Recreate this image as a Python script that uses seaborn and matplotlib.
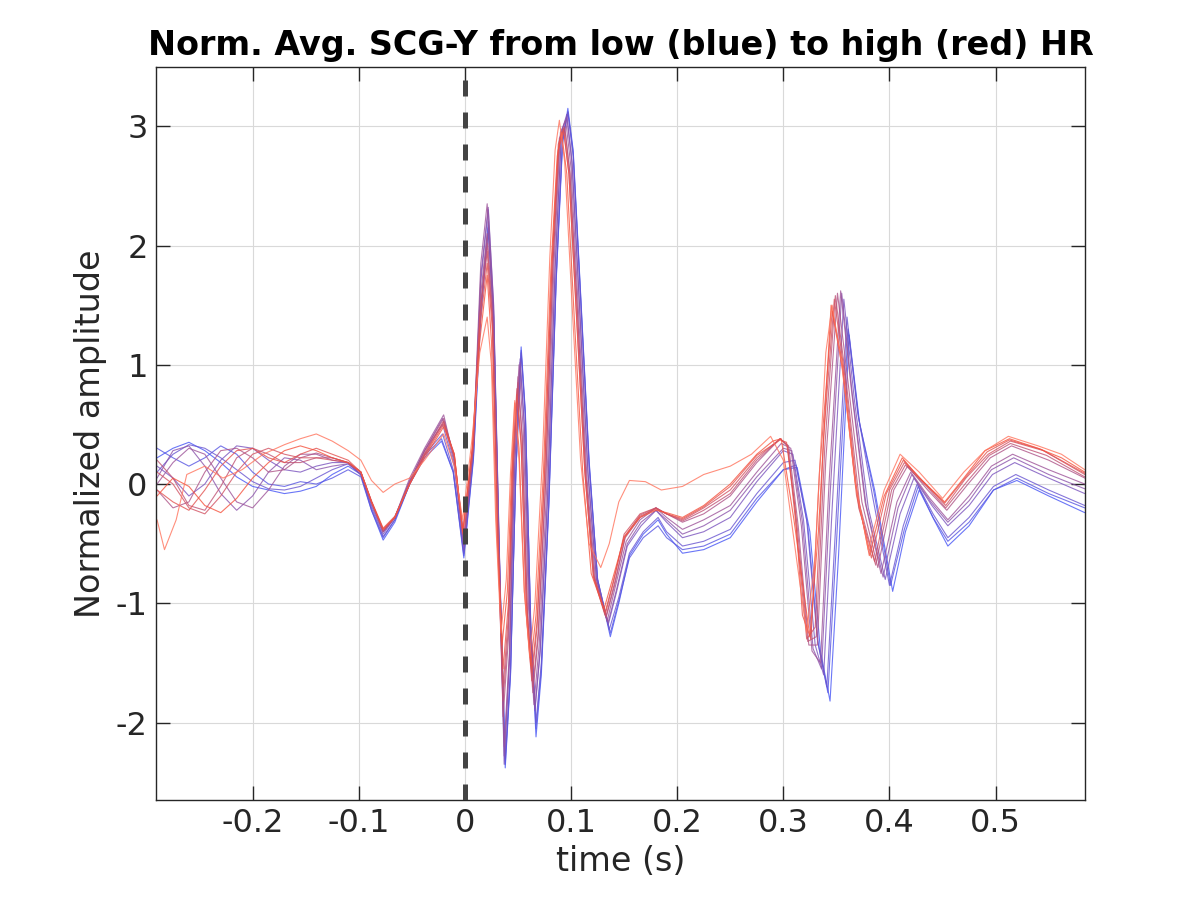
import numpy as np
import pandas as pd
import matplotlib
matplotlib.use("Agg")
import matplotlib.pyplot as plt
import seaborn as sns

# ---- data (time in s, normalized amplitude) ----
t0 = [-0.290,-0.275,-0.260,-0.245,-0.230,-0.215,-0.200,-0.185,-0.170,-0.155,-0.140,-0.125,-0.110,-0.098,-0.088,-0.077,-0.066,-0.052,-0.038,-0.022,-0.011,-0.001,0.008,0.015,0.022,0.027,0.032,0.038,0.043,0.048,0.053,0.057,0.062,0.067,0.072,0.079,0.086,0.092,0.097,0.102,0.109,0.117,0.125,0.137,0.145,0.155,0.168,0.182,0.190,0.205,0.225,0.250,0.275,0.300,0.313,0.325,0.335,0.344,0.352,0.362,0.372,0.386,0.403,0.415,0.428,0.442,0.455,0.475,0.498,0.520,0.550,0.584]
y0 = [0.22,0.30,0.35,0.28,0.18,0.06,-0.02,-0.05,-0.08,-0.06,-0.02,0.08,0.15,0.08,-0.22,-0.47,-0.32,0.00,0.22,0.36,0.10,-0.62,0.20,1.40,2.12,1.40,-0.50,-2.38,-1.60,0.10,1.15,0.60,-1.20,-2.12,-1.60,-0.20,1.70,2.85,3.15,2.80,1.60,0.20,-0.80,-1.28,-1.00,-0.60,-0.42,-0.30,-0.42,-0.58,-0.55,-0.45,-0.15,0.12,0.14,-0.40,-1.40,-1.82,-0.60,1.25,0.50,-0.05,-0.90,-0.40,-0.05,-0.30,-0.52,-0.35,-0.05,0.03,-0.10,-0.24]

t0b = [-0.290,-0.275,-0.260,-0.245,-0.230,-0.215,-0.200,-0.185,-0.170,-0.155,-0.140,-0.125,-0.110,-0.098,-0.088,-0.077,-0.066,-0.052,-0.038,-0.022,-0.011,-0.001,0.008,0.015,0.022,0.027,0.032,0.038,0.043,0.048,0.053,0.057,0.062,0.067,0.072,0.079,0.086,0.092,0.097,0.102,0.109,0.117,0.125,0.137,0.145,0.155,0.168,0.182,0.190,0.205,0.225,0.250,0.275,0.300,0.312,0.323,0.333,0.342,0.350,0.361,0.371,0.385,0.401,0.414,0.427,0.441,0.455,0.475,0.498,0.520,0.550,0.584]
y0b = [0.30,0.22,0.15,0.22,0.32,0.25,0.10,0.00,-0.02,0.02,0.00,0.05,0.12,0.06,-0.22,-0.45,-0.30,0.00,0.24,0.38,0.10,-0.60,0.22,1.45,2.15,1.42,-0.48,-2.35,-1.58,0.10,1.12,0.58,-1.18,-2.05,-1.55,-0.18,1.72,2.88,3.12,2.78,1.58,0.18,-0.80,-1.25,-0.98,-0.62,-0.45,-0.35,-0.45,-0.55,-0.52,-0.42,-0.12,0.12,0.16,-0.35,-1.35,-1.75,-0.50,1.30,0.55,-0.05,-0.85,-0.38,-0.02,-0.28,-0.48,-0.32,-0.05,0.05,-0.08,-0.20]

t1 = [-0.290,-0.275,-0.260,-0.245,-0.230,-0.215,-0.200,-0.185,-0.170,-0.155,-0.140,-0.125,-0.110,-0.098,-0.088,-0.077,-0.066,-0.052,-0.038,-0.021,-0.011,-0.001,0.008,0.015,0.022,0.027,0.032,0.038,0.043,0.048,0.053,0.057,0.062,0.067,0.072,0.079,0.086,0.092,0.097,0.102,0.109,0.117,0.125,0.136,0.145,0.155,0.168,0.182,0.190,0.205,0.225,0.250,0.275,0.300,0.311,0.322,0.332,0.341,0.349,0.360,0.370,0.384,0.400,0.413,0.426,0.441,0.455,0.475,0.498,0.519,0.550,0.584]
y1 = [0.10,0.25,0.33,0.30,0.22,0.12,0.02,-0.04,-0.05,-0.02,0.05,0.12,0.17,0.08,-0.20,-0.44,-0.30,0.00,0.25,0.42,0.12,-0.58,0.25,1.50,2.20,1.45,-0.45,-2.30,-1.55,0.10,1.10,0.55,-1.15,-2.00,-1.50,-0.15,1.75,2.90,3.12,2.75,1.55,0.15,-0.80,-1.22,-0.95,-0.58,-0.40,-0.28,-0.40,-0.52,-0.48,-0.38,-0.08,0.18,0.20,-0.30,-1.30,-1.70,-0.40,1.40,0.60,-0.10,-0.85,-0.35,0.00,-0.25,-0.45,-0.28,-0.02,0.08,-0.05,-0.18]

t2 = [-0.290,-0.275,-0.260,-0.245,-0.230,-0.215,-0.200,-0.185,-0.170,-0.155,-0.140,-0.125,-0.110,-0.098,-0.088,-0.077,-0.066,-0.052,-0.038,-0.021,-0.010,-0.001,0.008,0.015,0.022,0.027,0.032,0.037,0.042,0.047,0.052,0.056,0.061,0.066,0.071,0.078,0.085,0.091,0.096,0.101,0.108,0.116,0.124,0.135,0.143,0.153,0.166,0.180,0.190,0.205,0.225,0.250,0.275,0.300,0.309,0.319,0.330,0.338,0.346,0.357,0.367,0.380,0.396,0.410,0.423,0.440,0.455,0.475,0.497,0.518,0.550,0.584]
y2 = [0.15,0.05,-0.10,0.00,0.20,0.32,0.30,0.20,0.12,0.10,0.15,0.18,0.18,0.08,-0.18,-0.42,-0.28,0.02,0.28,0.50,0.15,-0.55,0.30,1.70,2.30,1.50,-0.40,-2.35,-1.50,0.15,1.05,0.50,-1.10,-1.90,-1.40,-0.10,1.80,2.95,3.10,2.70,1.50,0.10,-0.80,-1.18,-0.90,-0.52,-0.35,-0.22,-0.32,-0.45,-0.40,-0.28,0.02,0.28,0.25,-0.30,-1.35,-1.60,-0.20,1.55,0.70,-0.20,-0.80,-0.25,0.05,-0.18,-0.35,-0.18,0.08,0.18,0.05,-0.08]

t2b = [-0.290,-0.275,-0.260,-0.245,-0.230,-0.215,-0.200,-0.185,-0.170,-0.155,-0.140,-0.125,-0.110,-0.098,-0.088,-0.077,-0.066,-0.052,-0.038,-0.021,-0.010,-0.001,0.008,0.015,0.022,0.027,0.032,0.037,0.042,0.047,0.052,0.056,0.061,0.066,0.071,0.078,0.085,0.091,0.096,0.101,0.108,0.116,0.124,0.135,0.143,0.153,0.166,0.180,0.190,0.205,0.225,0.250,0.275,0.300,0.308,0.318,0.328,0.336,0.344,0.355,0.365,0.378,0.394,0.408,0.421,0.439,0.455,0.475,0.496,0.517,0.550,0.584]
y2b = [0.05,0.28,0.32,0.15,-0.08,-0.22,-0.10,0.10,0.22,0.20,0.12,0.15,0.17,0.08,-0.16,-0.40,-0.28,0.03,0.28,0.55,0.18,-0.52,0.32,1.75,2.32,1.52,-0.38,-2.28,-1.45,0.18,1.02,0.48,-1.08,-1.88,-1.38,-0.08,1.82,2.95,3.08,2.68,1.48,0.08,-0.80,-1.16,-0.88,-0.50,-0.32,-0.22,-0.30,-0.42,-0.35,-0.22,0.06,0.30,0.28,-0.32,-1.38,-1.55,-0.10,1.60,0.75,-0.18,-0.78,-0.20,0.08,-0.15,-0.32,-0.14,0.12,0.22,0.08,-0.04]

t3 = [-0.290,-0.275,-0.260,-0.245,-0.230,-0.215,-0.200,-0.185,-0.170,-0.155,-0.140,-0.125,-0.110,-0.098,-0.088,-0.077,-0.066,-0.052,-0.038,-0.020,-0.010,-0.001,0.008,0.015,0.021,0.026,0.031,0.037,0.042,0.046,0.051,0.055,0.060,0.065,0.070,0.077,0.084,0.090,0.095,0.100,0.107,0.115,0.123,0.134,0.142,0.152,0.165,0.180,0.190,0.205,0.225,0.250,0.275,0.298,0.307,0.317,0.327,0.335,0.343,0.354,0.364,0.377,0.392,0.407,0.420,0.438,0.455,0.475,0.496,0.516,0.550,0.584]
y3 = [0.00,0.18,0.30,0.25,0.05,-0.15,-0.20,-0.05,0.15,0.25,0.25,0.20,0.18,0.10,-0.15,-0.40,-0.28,0.05,0.30,0.58,0.20,-0.50,0.35,1.85,2.35,1.55,-0.35,-2.20,-1.40,0.20,1.00,0.45,-1.05,-1.85,-1.35,-0.05,1.85,2.95,3.05,2.65,1.45,0.05,-0.80,-1.15,-0.85,-0.48,-0.30,-0.20,-0.28,-0.38,-0.30,-0.18,0.10,0.34,0.30,-0.35,-1.40,-1.50,0.00,1.62,0.80,-0.15,-0.75,-0.15,0.10,-0.12,-0.30,-0.10,0.15,0.25,0.12,0.00]

t4 = [-0.290,-0.275,-0.260,-0.245,-0.230,-0.215,-0.200,-0.185,-0.170,-0.155,-0.140,-0.125,-0.110,-0.098,-0.088,-0.077,-0.066,-0.052,-0.038,-0.020,-0.010,-0.001,0.008,0.015,0.021,0.026,0.031,0.036,0.041,0.046,0.050,0.054,0.059,0.064,0.069,0.076,0.083,0.089,0.094,0.099,0.106,0.114,0.122,0.133,0.141,0.151,0.165,0.180,0.190,0.205,0.225,0.250,0.275,0.297,0.305,0.314,0.324,0.332,0.340,0.351,0.361,0.374,0.389,0.404,0.417,0.436,0.454,0.474,0.495,0.515,0.550,0.584]
y4 = [-0.05,-0.20,-0.15,0.10,0.28,0.30,0.22,0.10,0.12,0.22,0.26,0.22,0.18,0.10,-0.15,-0.40,-0.28,0.02,0.28,0.55,0.22,-0.45,0.32,1.60,2.10,1.45,-0.40,-1.95,-1.30,0.20,0.90,0.40,-1.10,-1.75,-1.30,0.00,1.85,2.90,3.00,2.60,1.45,0.05,-0.80,-1.12,-0.85,-0.45,-0.28,-0.20,-0.25,-0.32,-0.25,-0.10,0.18,0.38,0.32,-0.35,-1.35,-1.35,0.20,1.60,0.85,-0.15,-0.70,-0.05,0.15,-0.05,-0.22,0.00,0.22,0.32,0.20,0.05]

t4b = [-0.290,-0.275,-0.260,-0.245,-0.230,-0.215,-0.200,-0.185,-0.170,-0.155,-0.140,-0.125,-0.110,-0.098,-0.088,-0.077,-0.066,-0.052,-0.038,-0.020,-0.010,-0.001,0.008,0.015,0.021,0.026,0.031,0.036,0.041,0.046,0.050,0.054,0.059,0.064,0.069,0.076,0.083,0.089,0.094,0.099,0.106,0.114,0.122,0.133,0.141,0.151,0.165,0.180,0.190,0.205,0.225,0.250,0.275,0.297,0.304,0.313,0.323,0.331,0.339,0.349,0.359,0.372,0.387,0.402,0.415,0.435,0.453,0.473,0.494,0.514,0.548,0.584]
y4b = [0.20,0.05,-0.18,-0.22,-0.02,0.22,0.30,0.25,0.18,0.18,0.22,0.22,0.18,0.10,-0.15,-0.39,-0.28,0.01,0.26,0.53,0.23,-0.44,0.31,1.50,2.02,1.40,-0.40,-1.82,-1.20,0.20,0.85,0.38,-1.10,-1.70,-1.25,0.02,1.85,2.88,2.99,2.60,1.45,0.08,-0.79,-1.11,-0.83,-0.44,-0.26,-0.20,-0.25,-0.31,-0.22,-0.08,0.20,0.38,0.32,-0.35,-1.32,-1.28,0.30,1.58,0.88,-0.18,-0.68,-0.05,0.16,-0.02,-0.20,0.02,0.24,0.34,0.24,0.06]

t5 = [-0.290,-0.275,-0.260,-0.245,-0.230,-0.215,-0.200,-0.185,-0.170,-0.155,-0.140,-0.125,-0.110,-0.098,-0.088,-0.077,-0.066,-0.052,-0.038,-0.020,-0.010,-0.002,0.007,0.014,0.021,0.026,0.031,0.036,0.041,0.045,0.049,0.053,0.058,0.063,0.068,0.075,0.082,0.088,0.093,0.098,0.105,0.113,0.121,0.132,0.140,0.150,0.165,0.180,0.190,0.205,0.225,0.250,0.275,0.297,0.304,0.312,0.322,0.330,0.338,0.348,0.358,0.371,0.386,0.400,0.414,0.434,0.453,0.472,0.493,0.514,0.545,0.584]
y5 = [0.10,0.00,-0.20,-0.25,-0.10,0.10,0.25,0.30,0.25,0.22,0.22,0.20,0.18,0.10,-0.15,-0.38,-0.28,0.00,0.25,0.52,0.25,-0.42,0.30,1.40,1.95,1.35,-0.40,-1.70,-1.10,0.20,0.80,0.35,-1.10,-1.65,-1.20,0.05,1.85,2.85,2.98,2.60,1.45,0.10,-0.78,-1.10,-0.82,-0.42,-0.25,-0.20,-0.25,-0.30,-0.20,-0.05,0.22,0.38,0.32,-0.35,-1.30,-1.20,0.40,1.55,0.90,-0.20,-0.65,-0.05,0.18,0.00,-0.18,0.05,0.25,0.36,0.28,0.08]

t5b = [-0.290,-0.275,-0.260,-0.245,-0.230,-0.215,-0.200,-0.185,-0.170,-0.155,-0.140,-0.125,-0.110,-0.098,-0.088,-0.077,-0.066,-0.052,-0.038,-0.020,-0.010,-0.002,0.007,0.014,0.021,0.026,0.031,0.036,0.041,0.045,0.049,0.053,0.058,0.063,0.068,0.075,0.082,0.088,0.093,0.098,0.105,0.113,0.121,0.132,0.140,0.150,0.165,0.180,0.190,0.205,0.225,0.250,0.275,0.297,0.303,0.311,0.318,0.326,0.334,0.346,0.356,0.369,0.383,0.397,0.413,0.432,0.452,0.471,0.492,0.513,0.543,0.584]
y5b = [-0.05,-0.15,-0.22,-0.05,0.15,0.28,0.30,0.22,0.18,0.25,0.30,0.25,0.20,0.10,-0.14,-0.37,-0.27,0.00,0.24,0.50,0.25,-0.41,0.30,1.30,1.85,1.28,-0.40,-1.55,-1.00,0.15,0.75,0.32,-1.00,-1.58,-1.15,0.08,1.82,2.80,2.96,2.60,1.42,0.10,-0.76,-1.08,-0.81,-0.44,-0.27,-0.21,-0.25,-0.29,-0.19,-0.02,0.24,0.37,0.35,-0.20,-1.10,-1.30,0.10,1.45,0.95,-0.10,-0.62,-0.08,0.20,0.02,-0.16,0.05,0.27,0.37,0.29,0.09]

t6 = [-0.290,-0.275,-0.260,-0.245,-0.230,-0.215,-0.200,-0.185,-0.170,-0.155,-0.140,-0.125,-0.110,-0.098,-0.088,-0.077,-0.066,-0.052,-0.038,-0.020,-0.010,-0.002,0.007,0.014,0.021,0.025,0.030,0.035,0.040,0.044,0.047,0.051,0.056,0.062,0.067,0.074,0.081,0.087,0.091,0.096,0.103,0.111,0.119,0.131,0.139,0.150,0.165,0.180,0.190,0.205,0.225,0.250,0.275,0.290,0.298,0.310,0.325,0.333,0.345,0.355,0.368,0.381,0.395,0.412,0.428,0.452,0.470,0.490,0.513,0.540,0.562,0.584]
y6 = [-0.10,0.05,-0.02,-0.18,-0.24,-0.12,0.05,0.18,0.28,0.32,0.28,0.22,0.18,0.10,-0.15,-0.38,-0.28,0.00,0.22,0.48,0.25,-0.40,0.30,1.20,1.75,1.20,-0.40,-1.35,-0.90,0.10,0.68,0.30,-0.90,-1.52,-1.10,0.10,1.80,2.75,2.95,2.60,1.40,0.10,-0.75,-1.05,-0.80,-0.45,-0.28,-0.22,-0.24,-0.28,-0.18,0.00,0.25,0.36,0.38,-0.30,-1.28,-0.40,1.50,1.05,0.00,-0.60,-0.10,0.22,0.05,-0.15,0.05,0.28,0.38,0.30,0.22,0.10]

t7 = [-0.290,-0.283,-0.272,-0.262,-0.245,-0.228,-0.210,-0.190,-0.170,-0.155,-0.140,-0.125,-0.110,-0.098,-0.088,-0.077,-0.066,-0.052,-0.038,-0.020,-0.010,-0.002,0.007,0.014,0.021,0.025,0.029,0.034,0.039,0.043,0.047,0.051,0.056,0.061,0.066,0.073,0.080,0.085,0.089,0.094,0.101,0.109,0.117,0.128,0.136,0.145,0.155,0.170,0.185,0.205,0.225,0.250,0.270,0.288,0.300,0.312,0.322,0.330,0.340,0.346,0.355,0.368,0.380,0.395,0.410,0.428,0.450,0.470,0.490,0.512,0.540,0.562,0.584]
y7 = [-0.30,-0.55,-0.30,0.08,0.15,0.05,0.12,0.25,0.33,0.38,0.42,0.36,0.28,0.20,0.03,-0.07,0.00,0.05,0.20,0.42,0.15,-0.30,0.40,1.10,1.40,1.00,-0.30,-1.25,-0.80,0.10,0.70,0.20,-0.90,-1.45,-1.00,0.20,1.90,2.80,3.05,2.70,1.50,0.20,-0.50,-0.70,-0.50,-0.15,0.03,0.02,-0.05,-0.02,0.08,0.15,0.25,0.40,0.20,-0.60,-1.25,-0.60,1.10,1.50,1.00,0.00,-0.55,-0.05,0.25,0.10,-0.12,0.10,0.28,0.40,0.32,0.25,0.12]

# ordered from low HR (blue) to high HR (red)
curve_times = [t0, t0b, t1, t2, t2b, t3, t4, t4b, t5, t5b, t6, t7]
curve_values = [y0, y0b, y1, y2, y2b, y3, y4, y4b, y5, y5b, y6, y7]
curve_names = ["hr%02d" % (i + 1) for i in range(len(curve_times))]

x_ticks = [-0.2, -0.1, 0, 0.1, 0.2, 0.3, 0.4, 0.5]
x_ticklabels = ["-0.2", "-0.1", "0", "0.1", "0.2", "0.3", "0.4", "0.5"]
y_ticks = [-2, -1, 0, 1, 2, 3]
y_ticklabels = ["-2", "-1", "0", "1", "2", "3"]

# ---- build long table ----
frames = []
for name, tt, yy in zip(curve_names, curve_times, curve_values):
    frames.append(pd.DataFrame({"time": tt, "amp": yy, "curve": name}))
df = pd.concat(frames, ignore_index=True)

# colours: low HR blue -> high HR red
blue = np.array([0.27, 0.33, 0.96])
red = np.array([0.96, 0.32, 0.24])
n = len(curve_names)
palette = [tuple(blue + (red - blue) * k / (n - 2)) for k in range(n - 1)]
palette.append((1.0, 0.45, 0.36))

sns.set_theme(style="white")
plt.rcParams["font.family"] = ["DejaVu Sans"]

fig = plt.figure(figsize=(12, 9), dpi=100)
ax = fig.add_axes([0.13, 0.111, 0.774, 0.815])

sns.lineplot(data=df, x="time", y="amp", hue="curve", palette=palette,
             estimator=None, sort=False, legend=False, linewidth=0.8,
             alpha=0.8, ax=ax)

ax.axvline(0, color="#444444", linewidth=3.6, linestyle=(0, (3.2, 3.2)), zorder=5)

ax.set_xlim(-0.291, 0.584)
ax.set_ylim(-2.65, 3.5)
ax.set_xticks(x_ticks)
ax.set_xticklabels(x_ticklabels)
ax.set_yticks(y_ticks)
ax.set_yticklabels(y_ticklabels)
ax.grid(True, color="#d9d9d9", linewidth=0.8)
ax.set_axisbelow(True)
for s in ax.spines.values():
    s.set_visible(True)
    s.set_color("#262626")
    s.set_linewidth(1.0)
ax.tick_params(direction="in", length=10, width=1.0, color="#262626",
               top=True, right=True, bottom=True, left=True,
               labelsize=23, labelcolor="#262626", pad=6)
ax.set_xlabel("time (s)", fontsize=24, color="#262626", labelpad=4)
ax.set_ylabel("Normalized amplitude", fontsize=24, color="#262626", labelpad=6)
ax.set_title("Norm. Avg. SCG-Y from low (blue) to high (red) HR",
             fontsize=24, fontweight="bold", color="black", pad=8)

fig.savefig("out.png", dpi=100, facecolor="white")
